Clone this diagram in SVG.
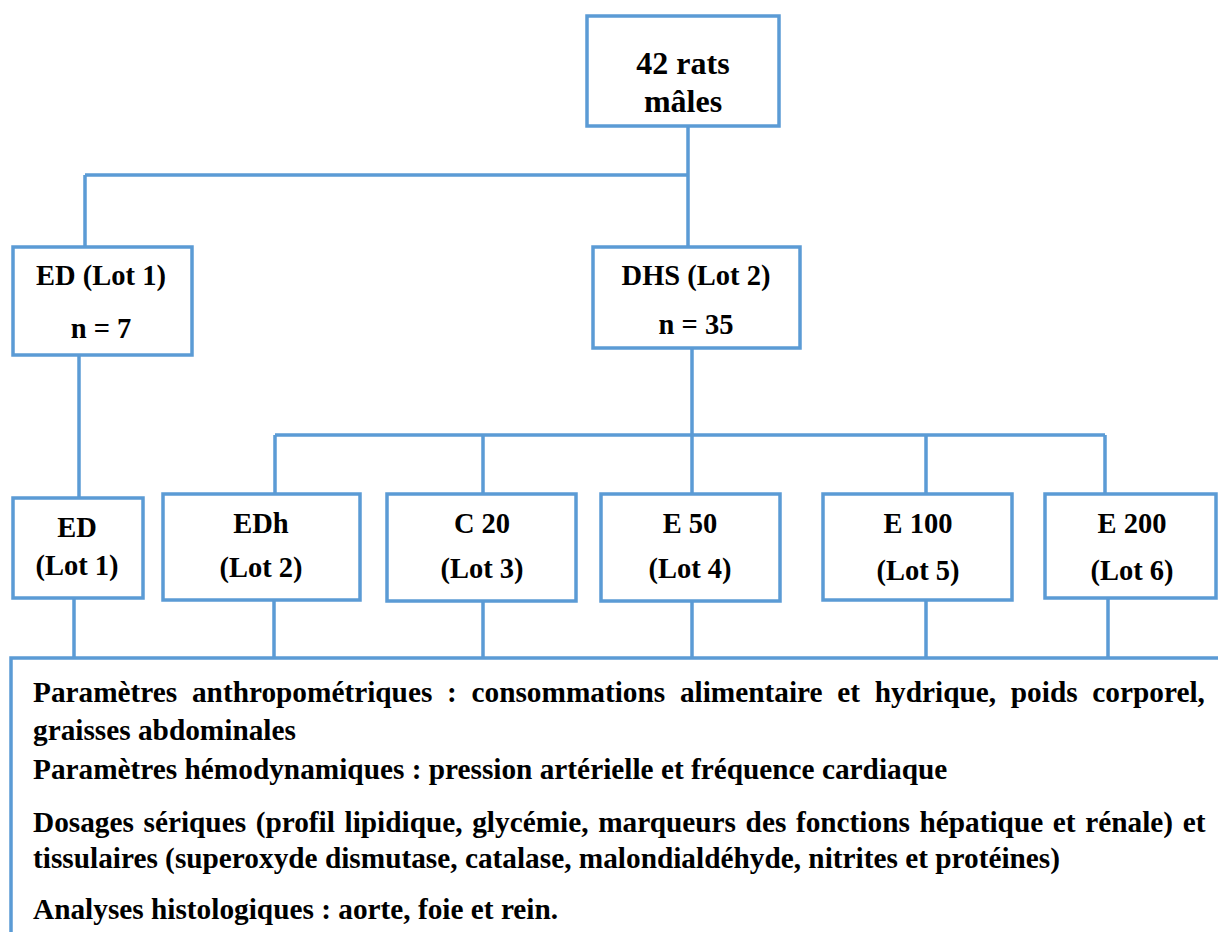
<svg xmlns="http://www.w3.org/2000/svg" width="1218" height="932" viewBox="0 0 1218 932">
<style>
.box{fill:#ffffff;stroke:#5B9BD5;stroke-width:3.5}
.ln{fill:none;stroke:#5B9BD5;stroke-width:3.5}
.t{font-family:"Liberation Serif","Times New Roman",serif;font-weight:bold;font-size:28.5px;fill:#000;text-anchor:middle}
.big{font-size:32px}
.p{font-family:"Liberation Serif","Times New Roman",serif;font-weight:bold;font-size:29.3px;fill:#000}
</style>
<rect width="1218" height="932" fill="#ffffff"/>
<g id="connectors">
<path class="ln" d="M688,126 V247 M85,175 H688 M85,175 V247"/>
<path class="ln" d="M692,348 V435 M275,435 H1105 M275,435 V494 M483,435 V494 M692,435 V494 M926,435 V494 M1105,435 V494"/>
<path class="ln" d="M79,355 V498"/>
<path class="ln" d="M74,598 V658 M274,600 V658 M483,601 V658 M692,601 V658 M926,600 V658 M1108,598 V658"/>
</g>
<g id="n_top"><rect class="box" x="587" y="16" width="192" height="110"/>
<text class="t big" x="683" y="74">42 rats</text><text class="t big" x="683" y="112">mâles</text></g>
<g id="n_ed_lot1"><rect class="box" x="13" y="247" width="179" height="108"/>
<text class="t" x="101" y="285">ED (Lot 1)</text><text class="t" x="101" y="338">n = 7</text></g>
<g id="n_dhs"><rect class="box" x="593" y="247" width="207" height="101"/>
<text class="t" x="696" y="285">DHS (Lot 2)</text><text class="t" x="696" y="334">n = 35</text></g>
<g id="n_ed"><rect class="box" x="13" y="498" width="130" height="100"/>
<text class="t" x="77" y="537">ED</text><text class="t" x="77" y="575">(Lot 1)</text></g>
<g id="n_edh"><rect class="box" x="163" y="494" width="197" height="106"/>
<text class="t" x="261" y="533">EDh</text><text class="t" x="261" y="577">(Lot 2)</text></g>
<g id="n_c20"><rect class="box" x="387" y="494" width="189" height="107"/>
<text class="t" x="482" y="533">C 20</text><text class="t" x="482" y="578">(Lot 3)</text></g>
<g id="n_e50"><rect class="box" x="601" y="494" width="179" height="107"/>
<text class="t" x="690" y="533">E 50</text><text class="t" x="690" y="578">(Lot 4)</text></g>
<g id="n_e100"><rect class="box" x="823" y="494" width="189" height="106"/>
<text class="t" x="918" y="533">E 100</text><text class="t" x="918" y="580">(Lot 5)</text></g>
<g id="n_e200"><rect class="box" x="1045" y="494" width="171" height="104"/>
<text class="t" x="1132" y="533">E 200</text><text class="t" x="1132" y="580">(Lot 6)</text></g>
<g id="n_analyses">
<path class="ln" d="M11,932 V658 H1218"/>
<text class="p" x="33" y="702" word-spacing="7.4">Paramètres anthropométriques : consommations alimentaire et hydrique, poids corporel,</text>
<text class="p" x="33" y="740">graisses abdominales</text>
<text class="p" x="33" y="779">Paramètres hémodynamiques : pression artérielle et fréquence cardiaque</text>
<text class="p" x="33" y="832" word-spacing="2.3">Dosages sériques (profil lipidique, glycémie, marqueurs des fonctions hépatique et rénale) et</text>
<text class="p" x="33" y="868">tissulaires (superoxyde dismutase, catalase, malondialdéhyde, nitrites et protéines)</text>
<text class="p" x="33" y="919">Analyses histologiques : aorte, foie et rein.</text>
</g>
</svg>
